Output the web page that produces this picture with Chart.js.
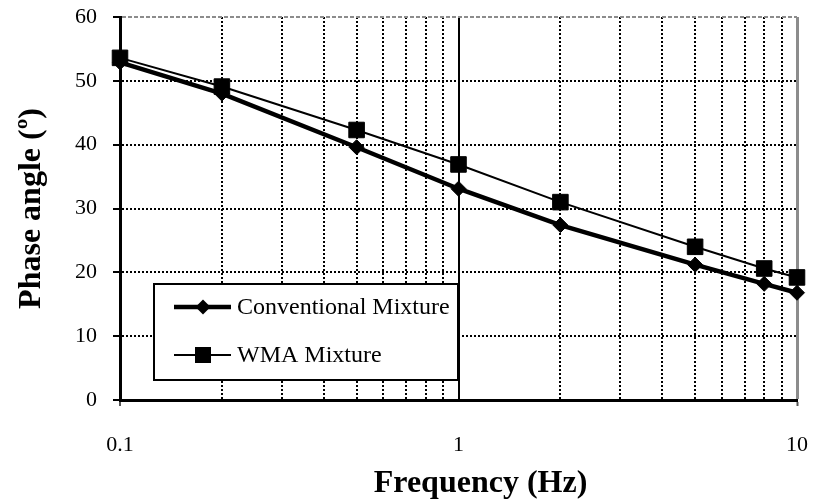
<!DOCTYPE html>
<html>
<head>
<meta charset="utf-8">
<script src="https://cdn.jsdelivr.net/npm/chart.js@4.4.1/dist/chart.umd.min.js"></script>
<style>
  html, body { margin: 0; padding: 0; background: #fff; }
  #wrap { width: 818px; height: 502px; }
</style>
</head>
<body>
<div id="wrap"><canvas id="phase" width="818" height="502"></canvas></div>
<script>
"use strict";

// data
var frequencies = [0.1, 0.2, 0.5, 1, 2, 5, 8, 10];
var conventional = [52.9, 48.0, 39.6, 33.1, 27.4, 21.2, 18.2, 16.8];
var wma = [53.6, 49.1, 42.3, 36.9, 31.0, 24.0, 20.6, 19.2];
var seriesNames = ['Conventional Mixture', 'WMA Mixture'];

var xGridValues = [0.1, 0.2, 0.3, 0.4, 0.5, 0.6, 0.7, 0.8, 0.9, 1, 2, 3, 4, 5, 6, 7, 8, 9, 10];
var xTickLabels = [0.1, 1, 10];

var SERIF = '"Liberation Serif", "Times New Roman", serif';

function toPoints(xs, ys) {
  return xs.map(function(x, i) { return { x: x, y: ys[i] }; });
}

function near(a, b) { return Math.abs(a - b) < 1e-9; }

function isLabelled(v) {
  return xTickLabels.some(function(t) { return near(t, v); });
}

// legend drawn inside the plot, like the original
var insideLegend = {
  id: 'insideLegend',
  afterDatasetsDraw: function(chart) {
    var ctx = chart.ctx, a = chart.chartArea;
    var x = a.left + 34, y = a.top + 267, w = 304, h = 96;
    ctx.save();
    ctx.fillStyle = '#fff';
    ctx.fillRect(x, y, w, h);
    ctx.lineWidth = 2;
    ctx.strokeStyle = '#000';
    ctx.strokeRect(x, y, w, h);
    chart.data.datasets.forEach(function(ds, i) {
      var cy = y + 23 + i * 48;
      var mx = x + 49;
      ctx.strokeStyle = ds.borderColor;
      ctx.lineWidth = ds.borderWidth;
      ctx.beginPath();
      ctx.moveTo(x + 20, cy);
      ctx.lineTo(x + 77, cy);
      ctx.stroke();
      ctx.fillStyle = ds.pointBackgroundColor;
      ctx.beginPath();
      if (ds.pointStyle === 'rectRot') {
        var r = 7.5;
        ctx.moveTo(mx, cy - r);
        ctx.lineTo(mx + r, cy);
        ctx.lineTo(mx, cy + r);
        ctx.lineTo(mx - r, cy);
        ctx.closePath();
      } else {
        ctx.rect(mx - 8, cy - 8, 16, 16);
      }
      ctx.fill();
      ctx.fillStyle = '#000';
      ctx.font = '24px ' + SERIF;
      ctx.textBaseline = 'middle';
      ctx.textAlign = 'left';
      ctx.fillText(ds.label, x + 83, cy + 1);
    });
    ctx.restore();
  }
};

// x title sits a little right of the plot centre in the original
var xTitle = {
  id: 'xTitle',
  afterDraw: function(chart) {
    var ctx = chart.ctx, a = chart.chartArea;
    ctx.save();
    ctx.fillStyle = '#000';
    ctx.font = 'bold 32px ' + SERIF;
    ctx.textAlign = 'center';
    ctx.textBaseline = 'middle';
    ctx.fillText('Frequency (Hz)', (a.left + a.right) / 2 + 22, 484);
    ctx.restore();
  }
};

var chart = new Chart(document.getElementById('phase'), {
  type: 'line',
  data: {
    datasets: [
      {
        label: seriesNames[0],
        data: toPoints(frequencies, conventional),
        borderColor: '#000',
        borderWidth: 4.5,
        pointStyle: 'rectRot',
        pointRadius: 7.5,
        pointBackgroundColor: '#000',
        pointBorderColor: '#000',
        pointBorderWidth: 1,
        tension: 0,
        clip: false
      },
      {
        label: seriesNames[1],
        data: toPoints(frequencies, wma),
        borderColor: '#000',
        borderWidth: 2,
        pointStyle: 'rect',
        pointRadius: 11,
        pointBackgroundColor: '#000',
        pointBorderColor: '#000',
        pointBorderWidth: 1,
        tension: 0,
        clip: false
      }
    ]
  },
  options: {
    responsive: false,
    animation: false,
    devicePixelRatio: 1,
    events: [],
    layout: { padding: { top: 17, right: 21, left: 0, bottom: 0 } },
    plugins: { legend: { display: false }, tooltip: { enabled: false } },
    scales: {
      x: {
        type: 'logarithmic',
        min: 0.1,
        max: 10,
        afterBuildTicks: function(scale) {
          scale.ticks = xGridValues.map(function(v) { return { value: v }; });
        },
        afterFit: function(scale) {
          scale.height = 102;
          scale.paddingLeft = 0;
          scale.paddingRight = 0;
        },
        ticks: {
          autoSkip: false,
          maxRotation: 0,
          padding: 26,
          color: '#000',
          font: { family: SERIF, size: 22 },
          callback: function(v) { return isLabelled(v) ? String(v) : ''; }
        },
        grid: {
          drawTicks: true,
          tickLength: 6,
          tickWidth: 2,
          tickBorderDash: [],
          tickColor: function(c) {
            var v = c.tick ? c.tick.value : 0;
            return (near(v, 0.1) || near(v, 10)) ? '#555' : 'rgba(0,0,0,0)';
          },
          color: function(c) {
            var v = c.tick ? c.tick.value : 0;
            return near(v, 10) ? '#8c8c8c' : '#000';
          },
          lineWidth: function(c) {
            var v = c.tick ? c.tick.value : 0;
            return near(v, 10) ? 3 : 2;
          }
        },
        border: {
          display: true,
          color: '#000',
          width: 3,
          dash: function(c) {
            if (!c.tick) return [];
            var v = c.tick.value;
            return (near(v, 1) || near(v, 10)) ? [] : [2, 2];
          }
        },
        title: { display: false }
      },
      y: {
        min: 0,
        max: 60,
        afterFit: function(scale) {
          scale.width = 120;
          scale.paddingTop = 0;
          scale.paddingBottom = 0;
        },
        ticks: {
          stepSize: 10,
          padding: 16,
          color: '#000',
          font: { family: SERIF, size: 22 }
        },
        grid: {
          drawTicks: true,
          tickLength: 7,
          tickWidth: 2,
          tickBorderDash: [],
          tickColor: '#000',
          color: function(c) {
            var v = c.tick ? c.tick.value : 0;
            return v === 60 ? '#8c8c8c' : '#000';
          },
          lineWidth: 2
        },
        border: {
          display: true,
          color: '#000',
          width: 3,
          dash: function(c) {
            if (!c.tick) return [];
            return c.tick.value === 60 ? [4, 2] : [2, 2];
          }
        },
        title: {
          display: true,
          text: 'Phase angle (º)',
          color: '#000',
          font: { family: SERIF, size: 32, weight: 'bold' },
          padding: { top: 13, bottom: 0 }
        }
      }
    }
  },
  plugins: [insideLegend, xTitle]
});
</script>
</body>
</html>
